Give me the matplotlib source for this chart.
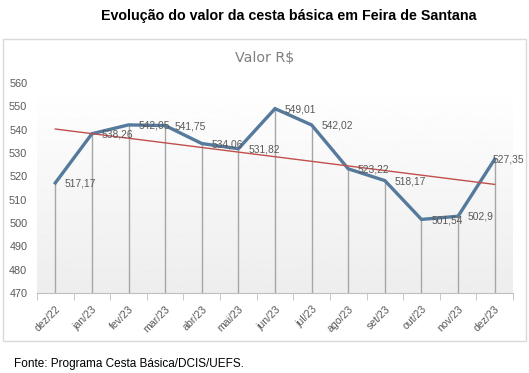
import numpy as np
import matplotlib.pyplot as plt
from matplotlib.patches import Rectangle

meses = ['dez/22', 'jan/23', 'fev/23', 'mar/23', 'abr/23', 'mai/23', 'jun/23',
         'jul/23', 'ago/23', 'set/23', 'out/23', 'nov/23', 'dez/23']
valores = [517.17, 538.26, 542.05, 541.75, 534.06, 531.82, 549.01,
           542.02, 523.22, 518.17, 501.54, 502.9, 527.35]
rotulos = ['517,17', '538,26', '542,05', '541,75', '534,06', '531,82', '549,01',
           '542,02', '523,22', '518,17', '501,54', '502,9', '527,35']
y_ticks = [470, 480, 490, 500, 510, 520, 530, 540, 550, 560]

plt.rcParams['font.family'] = ['Liberation Sans', 'DejaVu Sans']

W, H = 529, 373
fig = plt.figure(figsize=(W / 100, H / 100), dpi=100)
fig.patch.set_facecolor('white')

# moldura do grafico
fig.patches.append(Rectangle((3 / W, 1 - 341 / H), 523 / W, 302 / H,
                             transform=fig.transFigure, fill=False,
                             edgecolor='#d9d9d9', lw=1.0))

fig.text(289 / W, 1 - 16 / H, 'Evolução do valor da cesta básica em Feira de Santana',
         ha='center', va='center', fontsize=10.3, fontweight='bold')
fig.text(265 / W, 1 - 58 / H, 'Valor R$', ha='center', va='center',
         fontsize=10.3, color='#808080', family='DejaVu Sans')
fig.text(14 / W, 1 - 364 / H, 'Fonte: Programa Cesta Básica/DCIS/UEFS.',
         ha='left', va='center', fontsize=8.5)

ax = fig.add_axes([37 / W, 1 - 293 / H, 476 / W, 210 / H])
x = np.arange(len(meses))
ymin, ymax = 470, 560

# fundo em degrade
grad = np.linspace(0.93, 1.0, 256).reshape(-1, 1)
ax.imshow(grad, extent=[-0.5, len(meses) - 0.5, ymin, ymax], aspect='auto',
          cmap='gray', vmin=0, vmax=1, origin='lower', zorder=0)

# linhas de queda
ax.vlines(x, ymin, valores, color='#a6a6a6', lw=1.0, zorder=1)

ax.plot(x, valores, color='#557a9c', lw=2.4, zorder=3, solid_joinstyle='miter')

# linha de tendencia linear
a, b = np.polyfit(x, valores, 1)
ax.plot(x, a * x + b, color='#c0504d', lw=1.0, zorder=4)

for i, (xi, v, r) in enumerate(zip(x, valores, rotulos)):
    dx = -1.5 if i == len(x) - 1 else 7
    ax.annotate(r, (xi, v), xytext=(dx, -0.5), textcoords='offset points',
                ha='left', va='center', fontsize=7.4, color='#595959', zorder=5,
                annotation_clip=False)

ax.set_xlim(-0.5, len(meses) - 0.5)
ax.set_ylim(ymin, ymax)
ax.set_yticks(y_ticks)
ax.set_xticks(x)
ax.set_xticklabels(meses, rotation=45, ha='right', rotation_mode='anchor')
ax.set_xticks(np.arange(-0.5, len(meses)), minor=True)
ax.tick_params(axis='x', which='major', length=0, labelsize=7.6, colors='#595959', pad=8)
ax.tick_params(axis='x', which='minor', length=5, color='#bfbfbf', direction='out')
ax.tick_params(axis='y', length=0, labelsize=7.8, colors='#595959', pad=7)

for s in ['top', 'right', 'left']:
    ax.spines[s].set_visible(False)
ax.spines['bottom'].set_color('#bfbfbf')

fig.savefig('out.png', dpi=100)
